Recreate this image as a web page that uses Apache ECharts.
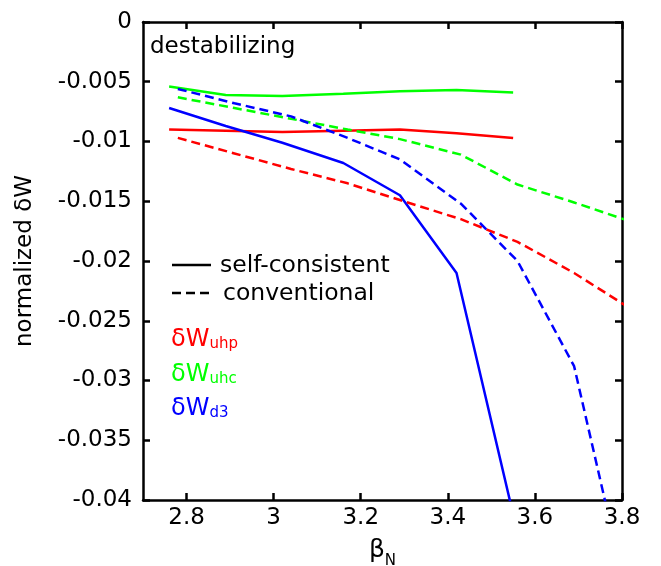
<!DOCTYPE html>
<html>
<head>
<meta charset="utf-8">
<script src="https://cdn.jsdelivr.net/npm/echarts@6/dist/echarts.min.js"></script>
<style>
  html, body { margin: 0; padding: 0; background: #fff; }
  #chart { width: 661px; height: 566px; }
</style>
</head>
<body>
<div id="chart"></div>
<script>
// beta_N sample points (self-consistent runs stop at 3.55)
var betaSelf = [2.76, 2.89, 3.02, 3.16, 3.29, 3.42, 3.55];
var betaConv = [2.78, 2.91, 3.04, 3.17, 3.29, 3.43, 3.56, 3.69, 3.82];

// self-consistent (solid)
var uhpSelf = [-0.0090, -0.0091, -0.0092, -0.0091, -0.0090, -0.0093, -0.0097];
var uhcSelf = [-0.0054, -0.0061, -0.0062, -0.0060, -0.0058, -0.0057, -0.0059];
var d3Self  = [-0.0072, -0.0087, -0.0101, -0.0118, -0.0145, -0.0210, -0.0412];

// conventional (dashed)
var uhpConv = [-0.0097, -0.0110, -0.0123, -0.0135, -0.0149, -0.0165, -0.0184, -0.0210, -0.0240];
var uhcConv = [-0.0063, -0.0072, -0.0081, -0.0090, -0.0098, -0.0111, -0.0136, -0.0151, -0.0167];
var d3Conv  = [-0.0056, -0.0068, -0.0079, -0.0097, -0.0115, -0.0152, -0.0200, -0.0288, -0.0494];

var xTicks = [2.8, 3, 3.2, 3.4, 3.6, 3.8];

var FONT = 'DejaVu Sans';
var RED = '#ff0000', GREEN = '#00ff00', BLUE = '#0000ff';

function pairs(xs, ys) {
    var out = [];
    for (var i = 0; i < xs.length; i++) out.push([xs[i], ys[i]]);
    return out;
}

function mkLine(name, xs, ys, color, dashed) {
    return {
        name: name,
        type: 'line',
        data: pairs(xs, ys),
        showSymbol: false,
        symbol: 'none',
        clip: true,
        lineStyle: { color: color, width: 2.5, type: dashed ? [9, 5] : 'solid' }
    };
}

var axisLine = { show: true, onZero: false, lineStyle: { color: '#000', width: 2.5 } };
var tickStyle = { color: '#000', width: 2.5 };

var myChart = echarts.init(document.getElementById('chart'));
var option = {
    animation: false,
    backgroundColor: '#fff',
    grid: { left: 143, right: 39, top: 22, bottom: 66, containLabel: false, outerBoundsMode: 'none' },
    xAxis: [{
        type: 'value', min: 2.7, max: 3.8, position: 'bottom',
        axisLine: axisLine,
        axisTick: { inside: true, length: 7, customValues: xTicks, lineStyle: tickStyle },
        axisLabel: { customValues: xTicks, color: '#000', fontSize: 23, fontFamily: FONT, margin: 7 },
        splitLine: { show: false },
        name: '{b|β}{n|N}',
        nameLocation: 'middle',
        nameGap: 38,
        nameTextStyle: {
            rich: {
                b: { fontSize: 25, fontFamily: FONT, color: '#000', verticalAlign: 'bottom', padding: [0, 0, 6, 0] },
                n: { fontSize: 15, fontFamily: FONT, color: '#000', verticalAlign: 'bottom' }
            }
        }
    }, {
        type: 'value', min: 2.7, max: 3.8, position: 'top',
        axisLine: axisLine,
        axisTick: { inside: true, length: 7, customValues: xTicks, lineStyle: tickStyle },
        axisLabel: { show: false },
        splitLine: { show: false }
    }],
    yAxis: [{
        type: 'value', min: -0.04, max: 0, interval: 0.005, position: 'left',
        axisLine: axisLine,
        axisTick: { inside: true, length: 7, lineStyle: tickStyle },
        axisLabel: { color: '#000', fontSize: 23, fontFamily: FONT, margin: 11 },
        splitLine: { show: false },
        name: 'normalized δW',
        nameLocation: 'middle',
        nameGap: 106,
        nameTextStyle: { color: '#000', fontSize: 23, fontFamily: FONT }
    }, {
        type: 'value', min: -0.04, max: 0, interval: 0.005, position: 'right',
        axisLine: axisLine,
        axisTick: { inside: true, length: 7, lineStyle: tickStyle },
        axisLabel: { show: false },
        splitLine: { show: false }
    }],
    series: [
        mkLine('uhp self-consistent', betaSelf, uhpSelf, RED, false),
        mkLine('uhc self-consistent', betaSelf, uhcSelf, GREEN, false),
        mkLine('d3 self-consistent', betaSelf, d3Self, BLUE, false),
        mkLine('uhp conventional', betaConv, uhpConv, RED, true),
        mkLine('uhc conventional', betaConv, uhcConv, GREEN, true),
        mkLine('d3 conventional', betaConv, d3Conv, BLUE, true)
    ],
    graphic: [
        { type: 'text', left: 150, top: 36,
          style: { text: 'destabilizing', fontSize: 23, fontFamily: FONT, fill: '#000' } },

        { type: 'line', shape: { x1: 172, y1: 265, x2: 211, y2: 265 },
          style: { stroke: '#000', lineWidth: 2.5 } },
        { type: 'text', left: 220, top: 254,
          style: { text: 'self-consistent', fontSize: 23.5, fontFamily: FONT, fill: '#000' } },
        { type: 'line', shape: { x1: 172, y1: 293, x2: 211, y2: 293 },
          style: { stroke: '#000', lineWidth: 2.5, lineDash: [9, 5] } },
        { type: 'text', left: 223, top: 282,
          style: { text: 'conventional', fontSize: 23.5, fontFamily: FONT, fill: '#000' } },

        { type: 'text', left: 171, top: 328,
          style: { text: '{m|δW}{s|uhp}', rich: {
              m: { fontSize: 24, fontFamily: FONT, fill: RED, verticalAlign: 'bottom' },
              s: { fontSize: 15, fontFamily: FONT, fill: RED, verticalAlign: 'bottom' } } } },
        { type: 'text', left: 171, top: 363,
          style: { text: '{m|δW}{s|uhc}', rich: {
              m: { fontSize: 24, fontFamily: FONT, fill: GREEN, verticalAlign: 'bottom' },
              s: { fontSize: 15, fontFamily: FONT, fill: GREEN, verticalAlign: 'bottom' } } } },
        { type: 'text', left: 171, top: 397,
          style: { text: '{m|δW}{s|d3}', rich: {
              m: { fontSize: 24, fontFamily: FONT, fill: BLUE, verticalAlign: 'bottom' },
              s: { fontSize: 15, fontFamily: FONT, fill: BLUE, verticalAlign: 'bottom' } } } }
    ]
};
myChart.setOption(option);
</script>
</body>
</html>
